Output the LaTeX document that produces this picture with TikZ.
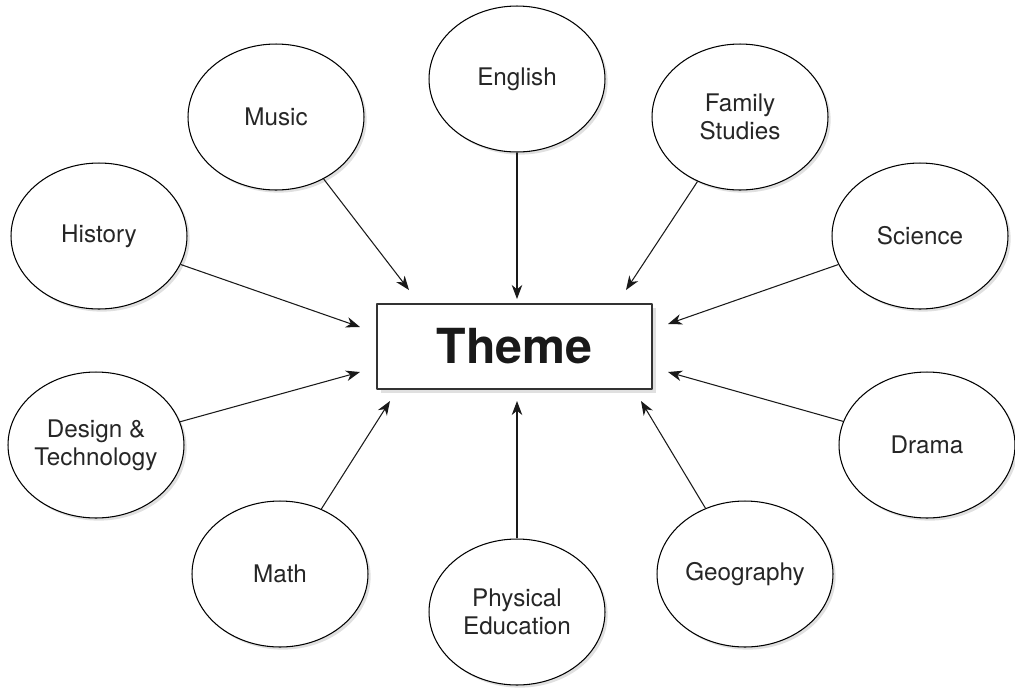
\documentclass[tikz,border=0pt]{standalone}
\usepackage{fontspec}
\setmainfont{TeX Gyre Heros}
\usetikzlibrary{arrows.meta,shapes.geometric,shadows}

\tikzset{
	subject/.style={ellipse, draw, line width=0.6pt, fill=white, text=black!85, minimum width=3.52cm, minimum height=2.92cm, inner sep=0pt, align=center, font=\fontsize{13.8}{16}\selectfont, drop shadow={shadow xshift=1.5pt, shadow yshift=-1.5pt, fill=black!12, opacity=1}},
	themebox/.style={rectangle, draw=black!80, line width=0.8pt, fill=white, text=black!90, minimum width=5.5cm, minimum height=1.7cm, font=\bfseries\fontsize{27.5}{30}\selectfont, drop shadow={shadow xshift=2.5pt, shadow yshift=-2.5pt, fill=black!12, opacity=1}},
	link/.style={->, line width=0.6pt, black!90}
}

\begin{document}
\begin{tikzpicture}[x=0.02cm, y=-0.02cm, line join=round, >={Stealth[length=8pt,width=6pt,inset=2.5pt]}]
	\useasboundingbox (0,0) rectangle (1015,691);

	\node[themebox] (theme) at (514.5,346.5) {Theme};

	\node[subject] (english) at (517,79) {English};
	\node[subject] (music) at (276,117) {Music};
	\node[subject] (family) at (740,117) {Family\\Studies};
	\node[subject] (history) at (99,236) {History};
	\node[subject] (science) at (920,236) {Science};
	\node[subject] (design) at (96,445) {Design \&\\Technology};
	\node[subject] (drama) at (927,445) {Drama};
	\node[subject] (math) at (280,574) {Math};
	\node[subject] (physical) at (517,612) {Physical\\Education};
	\node[subject] (geography) at (745,574) {Geography};

	\path
		(409,290) coordinate (tMusic)
		(517,299) coordinate (tEnglish)
		(626,290) coordinate (tFamily)
		(360,327) coordinate (tHistory)
		(668,324) coordinate (tScience)
		(360,372) coordinate (tDesign)
		(668,372) coordinate (tDrama)
		(390,401) coordinate (tMath)
		(517,401) coordinate (tPhysical)
		(641,401) coordinate (tGeography)
	;

	\foreach \s/\t in {music/tMusic, english/tEnglish, family/tFamily, history/tHistory, science/tScience, design/tDesign, drama/tDrama, math/tMath, physical/tPhysical, geography/tGeography}{
		\draw[link] (\s) -- (\t);
	};

\end{tikzpicture}
\end{document}
